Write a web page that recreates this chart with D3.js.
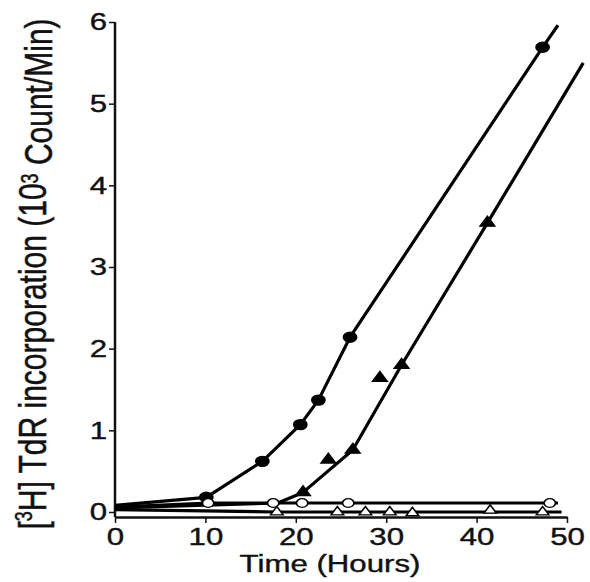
<!DOCTYPE html>
<html>
<head>
<meta charset="utf-8">
<script src="https://cdn.jsdelivr.net/npm/d3@7"></script>
<style>
  body { margin: 0; background: #fff; }
  text { font-family: "Liberation Sans", Arial, sans-serif; fill: #111; }
</style>
</head>
<body>
<div id="chart"></div>
<script>
// filled circles
var fcTime = [10.1, 16.3, 20.5, 22.5, 26.0, 47.3];
var fcValue = [0.18, 0.62, 1.07, 1.37, 2.14, 5.69];
var fcLineTime = [0, 10.1, 16.3, 20.5, 22.5, 26.0, 47.3, 49.0];
var fcLineValue = [0.08, 0.18, 0.62, 1.07, 1.37, 2.14, 5.69, 5.96];

// filled triangles (two points sit off the fitted line)
var ftTime = [20.8, 23.6, 26.3, 29.3, 31.7, 41.2];
var ftValue = [0.24, 0.64, 0.76, 1.64, 1.80, 3.54];
var ftLineTime = [0, 18.0, 20.8, 26.3, 31.7, 41.2, 51.8];
var ftLineValue = [0.05, 0.11, 0.24, 0.76, 1.80, 3.54, 5.50];

// open circles
var ocTime = [10.3, 17.5, 20.7, 25.8, 48.1];
var ocValue = [0.11, 0.11, 0.11, 0.11, 0.11];
var ocLineTime = [0, 10.3, 48.1, 49.0];
var ocLineValue = [0.06, 0.11, 0.11, 0.11];

// open triangles
var otTime = [17.9, 24.6, 27.7, 30.4, 32.9, 41.5, 47.3];
var otValue = [0.0, 0.0, 0.0, 0.0, -0.01, 0.02, 0.0];
var otLineTime = [0, 17.9, 47.3, 49.4];
var otLineValue = [0.03, 0.0, 0.0, 0.0];

var xTicks = [0, 10, 20, 30, 40, 50];
var yTicks = [0, 1, 2, 3, 4, 5, 6];

var width = 590,
  height = 582,
  stretch = 1.3;  // the figure is a bit wide, glyphs and markers too

var x = d3.scaleLinear().domain([0, 50]).range([115, 567]);
var y = d3.scaleLinear().domain([0, 6]).range([512, 22]);
var axisY = 517;  // x axis sits a little under zero

var svg = d3.select("#chart")
  .append("svg")
  .attr("width", width)
  .attr("height", height);

function pairs(t, v) {
  return t.map(function (d, i) { return [d, v[i]]; });
}

var line = d3.line()
  .x(function (d) { return x(d[0]); })
  .y(function (d) { return y(d[1]); });

// axes
var gx = svg.append("g")
  .attr("transform", "translate(0," + axisY + ")")
  .call(d3.axisBottom(x).tickValues(xTicks).tickFormat(d3.format("d"))
    .tickSize(6).tickPadding(5).tickSizeOuter(0));

var gy = svg.append("g")
  .attr("transform", "translate(" + x(0) + ",0)")
  .call(d3.axisLeft(y).tickValues(yTicks).tickFormat(d3.format("d"))
    .tickSize(6).tickPadding(0).tickSizeOuter(0));

gy.select(".domain").attr("d", "M0," + y(6) + "V" + axisY);

[gx, gy].forEach(function (g) {
  g.select(".domain").attr("stroke", "#111").attr("stroke-width", 2.5);
  g.selectAll(".tick line").attr("stroke", "#111").attr("stroke-width", 1.5);
  g.selectAll(".tick text")
    .style("font-size", "24px")
    .attr("fill", "#111")
    .attr("stroke", "#111")
    .attr("stroke-width", 0.4)
    .attr("transform", "scale(" + stretch + ",1)");
});

// lines
var lines = [
  pairs(fcLineTime, fcLineValue),
  pairs(ftLineTime, ftLineValue),
  pairs(ocLineTime, ocLineValue),
  pairs(otLineTime, otLineValue)
];
svg.selectAll("path.series")
  .data(lines)
  .enter()
  .append("path")
  .attr("class", "series")
  .attr("d", line)
  .attr("fill", "none")
  .attr("stroke", "#000")
  .attr("stroke-width", 3.2)
  .attr("stroke-linejoin", "round");

// markers
var markers = [
  { data: pairs(fcTime, fcValue), type: d3.symbolCircle, size: 80, fill: "#000" },
  { data: pairs(ftTime, ftValue), type: d3.symbolTriangle, size: 55, fill: "#000" },
  { data: pairs(ocTime, ocValue), type: d3.symbolCircle, size: 60, fill: "#fff" },
  { data: pairs(otTime, otValue), type: d3.symbolTriangle, size: 40, fill: "#fff" }
];
markers.forEach(function (m) {
  svg.append("g")
    .selectAll("path")
    .data(m.data)
    .enter()
    .append("path")
    .attr("d", d3.symbol().type(m.type).size(m.size))
    .attr("transform", function (d) {
      return "translate(" + x(d[0]) + "," + y(d[1]) + ")scale(" + stretch + ",1)";
    })
    .attr("fill", m.fill)
    .attr("stroke", "#000")
    .attr("stroke-width", 1.3);
});

// axis titles
svg.append("text")
  .attr("transform", "translate(330,572)scale(" + stretch + ",1)")
  .attr("text-anchor", "middle")
  .style("font-size", "24px")
  .attr("stroke", "#111")
  .attr("stroke-width", 0.4)
  .text("Time (Hours)");

var yl = svg.append("text")
  .attr("transform", "translate(46,274)rotate(-90)scale(1," + stretch + ")")
  .attr("text-anchor", "middle")
  .style("font-size", "30px")
  .attr("stroke", "#111")
  .attr("stroke-width", 0.4);
yl.append("tspan").text("[");
yl.append("tspan").attr("dy", "-0.6em").style("font-size", "18px").text("3");
yl.append("tspan").attr("dy", "0.36em").text("H] TdR incorporation (10");
yl.append("tspan").attr("dy", "-0.36em").style("font-size", "18px").text("3");
yl.append("tspan").attr("dy", "0.36em").text(" Count/Min)");
</script>
</body>
</html>
